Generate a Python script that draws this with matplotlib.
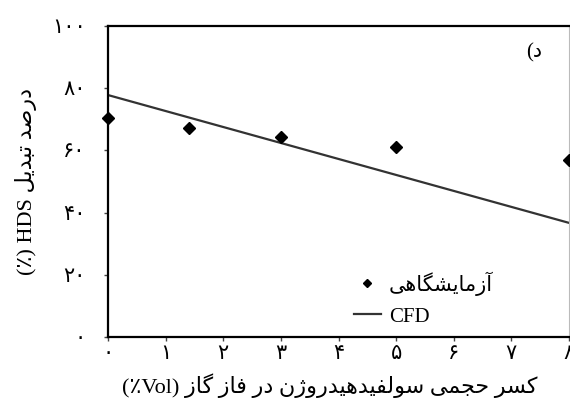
import matplotlib
matplotlib.use('Agg')
import matplotlib.pyplot as plt

plt.rcParams['font.family'] = ['Liberation Serif', 'DejaVu Sans']

# داده‌ها
x_exp = [0, 1.4, 3, 5, 8]
y_exp = [70.4, 67.2, 64.3, 61.1, 56.9]
x_cfd = [0, 8]
y_cfd = [77.8, 36.7]
x_ticks = [0, 1, 2, 3, 4, 5, 6, 7, 8]
y_ticks = [0, 20, 40, 60, 80, 100]

# شکل‌دهی حروف فارسی (matplotlib خودش اتصال و راست‌به‌چپ ندارد)
FORMS = {
    'ا': ('\uFE8D', '\uFE8E', None, None),
    'آ': ('\uFE81', '\uFE82', None, None),
    'ب': ('\uFE8F', '\uFE90', '\uFE91', '\uFE92'),
    'ت': ('\uFE95', '\uFE96', '\uFE97', '\uFE98'),
    'ج': ('\uFE9D', '\uFE9E', '\uFE9F', '\uFEA0'),
    'ح': ('\uFEA1', '\uFEA2', '\uFEA3', '\uFEA4'),
    'د': ('\uFEA9', '\uFEAA', None, None),
    'ر': ('\uFEAD', '\uFEAE', None, None),
    'ز': ('\uFEAF', '\uFEB0', None, None),
    'ژ': ('\uFB8A', '\uFB8B', None, None),
    'س': ('\uFEB1', '\uFEB2', '\uFEB3', '\uFEB4'),
    'ش': ('\uFEB5', '\uFEB6', '\uFEB7', '\uFEB8'),
    'ص': ('\uFEB9', '\uFEBA', '\uFEBB', '\uFEBC'),
    'ف': ('\uFED1', '\uFED2', '\uFED3', '\uFED4'),
    'ک': ('\uFB8E', '\uFB8F', '\uFB90', '\uFB91'),
    'گ': ('\uFB92', '\uFB93', '\uFB94', '\uFB95'),
    'ل': ('\uFEDD', '\uFEDE', '\uFEDF', '\uFEE0'),
    'م': ('\uFEE1', '\uFEE2', '\uFEE3', '\uFEE4'),
    'ن': ('\uFEE5', '\uFEE6', '\uFEE7', '\uFEE8'),
    'ه': ('\uFEE9', '\uFEEA', '\uFEEB', '\uFEEC'),
    'و': ('\uFEED', '\uFEEE', None, None),
    'ی': ('\uFBFC', '\uFBFD', '\uFBFE', '\uFBFF'),
}


def fa(text):
    out = []
    for i, c in enumerate(text):
        if c not in FORMS:
            out.append(c)
            continue
        prev = text[i - 1] if i > 0 else ''
        nxt = text[i + 1] if i + 1 < len(text) else ''
        jp = prev in FORMS and FORMS[prev][2] is not None
        jn = FORMS[c][2] is not None and nxt in FORMS
        iso, fin, ini, med = FORMS[c]
        if jp and jn:
            out.append(med)
        elif jp:
            out.append(fin)
        elif jn:
            out.append(ini)
        else:
            out.append(iso)
    return ''.join(reversed(out))


def fa_digits(n):
    return ''.join('۰۱۲۳۴۵۶۷۸۹'[int(d)] for d in str(n))


fig = plt.figure(figsize=(5.7, 4.09), dpi=100)
ax = fig.add_axes([0.1895, 0.176, 0.8088, 0.7604])

ax.plot(x_cfd, y_cfd, color='#333333', lw=1.6, label='CFD')
ax.plot(x_exp, y_exp, 'D', color='black', ms=6.5, clip_on=False, zorder=3,
        label=fa('آزمایشگاهی'))

ax.set_xlim(0, 8)
ax.set_ylim(0, 100)
ax.set_xticks(x_ticks)
ax.set_xticklabels([fa_digits(v) for v in x_ticks])
ax.set_yticks(y_ticks)
ax.set_yticklabels([fa_digits(v) for v in y_ticks])
ax.tick_params(axis='both', direction='out', length=3, width=1,
               color='#444444', labelsize=15)
ax.tick_params(axis='y', pad=13)
ax.tick_params(axis='x', pad=3)

for s in ['left', 'bottom', 'top']:
    ax.spines[s].set_linewidth(1.6)
    ax.spines[s].set_color('black')
ax.spines['right'].set_linewidth(0.8)
ax.spines['right'].set_color('#bbbbbb')

ax.text(-0.178, 0.50, '(٪) HDS ' + fa('درصد تبدیل'), transform=ax.transAxes,
        rotation=90, ha='center', va='center', fontsize=16)
ax.text(0.48, -0.155, '(٪Vol) ' + fa('کسر حجمی سولفیدهیدروژن در فاز گاز'),
        transform=ax.transAxes, ha='center', va='center', fontsize=16)
ax.text(0.925, 0.915, '(' + fa('د'), transform=ax.transAxes,
        ha='center', va='center', fontsize=15)

handles, labels = ax.get_legend_handles_labels()
ax.legend(handles[::-1], labels[::-1], loc='upper left',
          bbox_to_anchor=(0.51, 0.245), frameon=False, fontsize=15,
          handlelength=1.3, handletextpad=0.4, markerscale=0.7,
          borderpad=0, labelspacing=0.55)

fig.savefig('out.png', dpi=100)
